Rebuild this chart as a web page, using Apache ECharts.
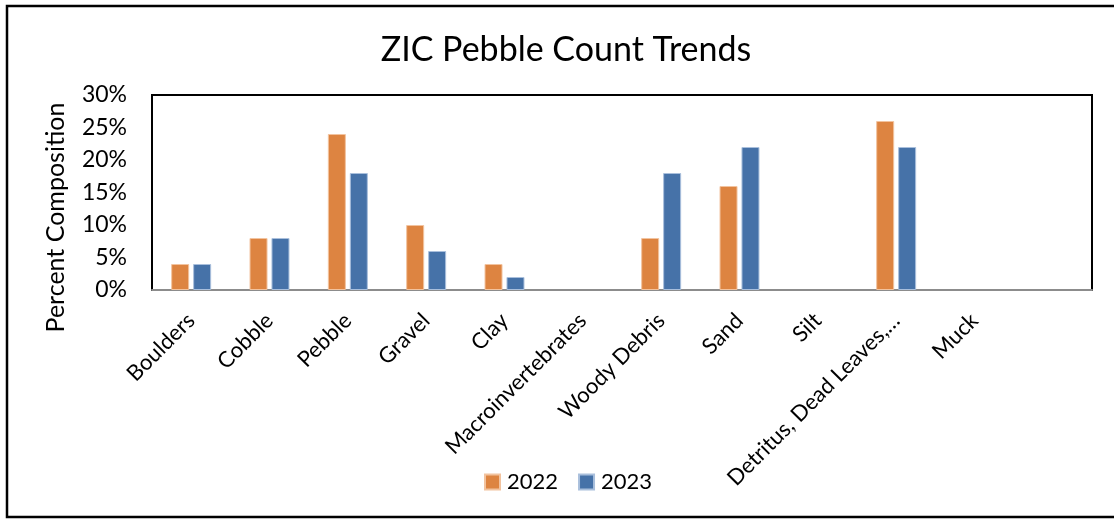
<!DOCTYPE html>
<html>
<head>
<meta charset="utf-8">
<script src="https://cdn.jsdelivr.net/npm/echarts@6/dist/echarts.min.js"></script>
<style>
  html, body { margin: 0; padding: 0; background: #fff; }
  #chart { width: 1114px; height: 519px; }
</style>
</head>
<body>
<div id="chart"></div>
<script>
// Substrate categories (last slot is an empty category)
const categories = ['Boulders', 'Cobble', 'Pebble', 'Gravel', 'Clay', 'Macroinvertebrates',
  'Woody Debris', 'Sand', 'Silt', 'Detritus, Dead Leaves,\u2026', 'Muck', ''];
// Percent composition per year
const values2022 = [4, 8, 24, 10, 4, 0, 8, 16, 0, 26, 0, 0];
const values2023 = [4, 8, 18, 6, 2, 0, 18, 22, 0, 22, 0, 0];
const yTicks = [0, 5, 10, 15, 20, 25, 30];

const FONT = 'Lato';

// zero-height bars get no outline so they stay invisible
const toItems = vals => vals.map(v => (v === 0 ? { value: v, itemStyle: { borderWidth: 0 } } : v));

const chart = echarts.init(document.getElementById('chart'), null, { renderer: 'canvas' });

chart.setOption({
  animation: false,
  backgroundColor: '#fff',
  title: {
    text: 'ZIC Pebble Count Trends',
    left: 561, top: 28, textAlign: 'center',
    textStyle: { fontFamily: FONT, fontSize: 34, fontWeight: 'normal', color: '#000' }
  },
  legend: {
    data: ['2022', '2023'],
    left: 479, top: 466,
    icon: 'rect',
    itemWidth: 15, itemHeight: 15, itemGap: 20,
    textStyle: { fontFamily: FONT, fontSize: 22, color: '#000', padding: [0, 0, 0, 2] }
  },
  grid: {
    left: 152, right: 22, top: 95, bottom: 229,
    show: true, borderColor: '#000', borderWidth: 2, backgroundColor: 'transparent'
  },
  xAxis: {
    type: 'category',
    data: categories,
    axisLine: { lineStyle: { color: '#8c8c8c', width: 2 } },
    axisTick: { show: false },
    axisLabel: {
      interval: 0, rotate: 45, margin: 27,
      fontFamily: FONT, fontSize: 22, color: '#000'
    }
  },
  yAxis: {
    type: 'value',
    min: yTicks[0], max: yTicks[yTicks.length - 1], interval: 5,
    name: 'Percent Composition',
    nameLocation: 'middle', nameGap: 84,
    nameTextStyle: { fontFamily: FONT, fontSize: 25, color: '#000', padding: [0, 50, 0, 0] },
    axisLine: { show: false },
    axisTick: { show: false },
    splitLine: { show: false },
    axisLabel: {
      margin: 25,
      fontFamily: FONT, fontSize: 23, color: '#000',
      formatter: v => v + '%'
    }
  },
  series: [
    {
      name: '2022', type: 'bar', data: toItems(values2022),
      barWidth: 18, barGap: '22%',
      itemStyle: { color: '#dd8441', borderColor: '#f2c39f', borderWidth: 1 }
    },
    {
      name: '2023', type: 'bar', data: toItems(values2023),
      barWidth: 18,
      itemStyle: { color: '#4672a8', borderColor: '#a9bfdc', borderWidth: 1 }
    }
  ],
  graphic: [
    {
      type: 'rect',
      shape: { x: 7, y: 6, width: 1120, height: 511 },
      style: { fill: 'none', stroke: '#000', lineWidth: 2.5 },
      silent: true, z: 100
    }
  ]
});
</script>
</body>
</html>
